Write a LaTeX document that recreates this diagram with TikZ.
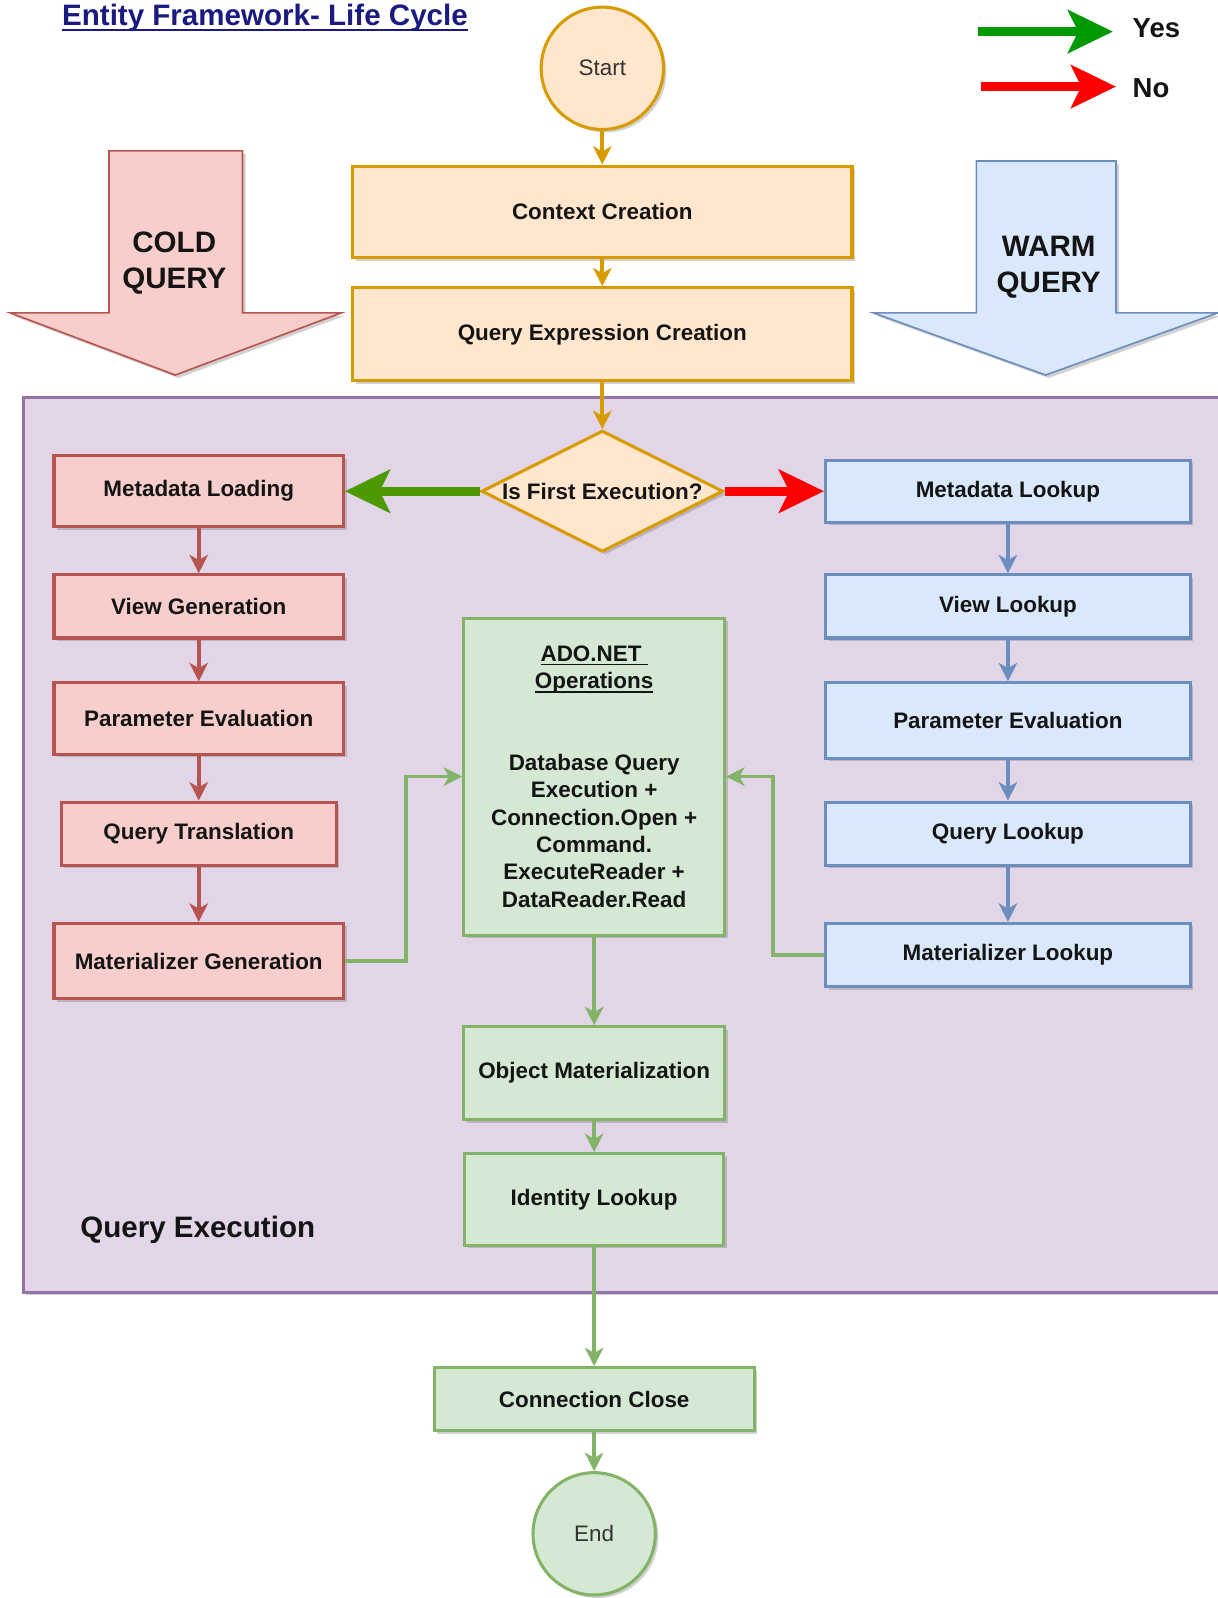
\documentclass[tikz,border=0pt]{standalone}
\usepackage{fontspec}
\setmainfont{Liberation Sans}
\usetikzlibrary{shapes.geometric,arrows.meta,positioning,calc,shadows}
\definecolor{orangefill}{RGB}{255,230,204}
\definecolor{orangeline}{RGB}{215,155,0}
\definecolor{redfill}{RGB}{248,206,204}
\definecolor{redline}{RGB}{184,84,80}
\definecolor{bluefill}{RGB}{218,232,252}
\definecolor{blueline}{RGB}{108,142,191}
\definecolor{greenfill}{RGB}{213,232,212}
\definecolor{greenline}{RGB}{130,179,102}
\definecolor{purplefill}{RGB}{225,213,231}
\definecolor{purpleline}{RGB}{150,115,166}
\definecolor{yesgreen}{RGB}{0,153,0}
\definecolor{firstgreen}{RGB}{77,153,0}
\definecolor{nored}{RGB}{255,0,0}
\definecolor{titleblue}{RGB}{26,26,128}
\definecolor{textdark}{RGB}{20,20,20}
\definecolor{textmuted}{RGB}{51,51,51}

\newcommand{\flatline}[1]{\leavevmode\setbox0\hbox{#1}\rlap{\rule[-0.16em]{\wd0}{0.065em}}\box0}

\tikzset{
    softshadow/.style={drop shadow={shadow xshift=1.5pt, shadow yshift=-1.5pt, opacity=0.3, fill=black!60}},
    stagebox/.style={rectangle, draw, line width=1.5pt, softshadow, inner sep=0pt, align=center,
        text=textdark, font=\bfseries\fontsize{11}{13.4}\selectfont},
    orangestep/.style={stagebox, fill=orangefill, draw=orangeline},
    coldstep/.style={stagebox, fill=redfill, draw=redline, minimum width=142pt},
    warmstep/.style={stagebox, fill=bluefill, draw=blueline, minimum width=179pt},
    adostep/.style={stagebox, fill=greenfill, draw=greenline},
    terminal/.style={circle, draw, line width=1.5pt, minimum size=60pt, inner sep=0pt, softshadow,
        text=textmuted, font=\fontsize{11}{13}\selectfont},
    decision/.style={diamond, draw=orangeline, fill=orangefill, line width=1.5pt, softshadow,
        minimum width=118.5pt, minimum height=59.5pt, inner sep=0pt,
        text=textdark, font=\bfseries\fontsize{11}{13.4}\selectfont},
    bigtext/.style={inner sep=0pt, text=textdark, font=\bfseries\fontsize{14.5}{17.5}\selectfont},
    legendtext/.style={inner sep=0pt, text=textdark, font=\bfseries\fontsize{13.5}{16}\selectfont},
    flow/.style={line width=1.8pt, -{Stealth[length=9pt, width=9pt, inset=2.5pt]}},
    bigflow/.style={line width=4.5pt, -{Stealth[length=22pt, width=21pt, inset=5pt]}}
}

\begin{document}
\begin{tikzpicture}[x=0.5pt, y=-0.5pt]
    \useasboundingbox (0,0) rectangle (1195,1568);

    \draw[fill=purplefill, draw=purpleline, line width=1.5pt, softshadow] (23,390) rectangle (1210,1268);
    \draw[fill=redfill, draw=redline, line width=0.8pt, softshadow] (107,148) -- (238,148) -- (238,307) -- (335,307) -- (172,368) -- (10,307) -- (107,307) -- cycle;
    \draw[fill=bluefill, draw=blueline, line width=0.8pt, softshadow] (958,158) -- (1095,158) -- (1095,307) -- (1195,307) -- (1026,368) -- (857,307) -- (958,307) -- cycle;

    \node[bigtext, text=titleblue] (title) at (260,18) {\flatline{Entity Framework- Life Cycle}};
    \node[bigtext, align=center] (cold) at (171,258) {COLD\\QUERY};
    \node[bigtext, align=center] (warm) at (1029,262) {WARM\\QUERY};
    \node[bigtext] (qexec) at (194,1207) {Query Execution};
    \node[legendtext, anchor=west] (yes) at (1111,28) {Yes};
    \node[legendtext, anchor=west] (no) at (1111,87) {No};
    \coordinate (yesfrom) at (960,31);
    \coordinate (yesto) at (1092,31);
    \coordinate (nofrom) at (963,85);
    \coordinate (noto) at (1095,85);

    \node[terminal, draw=orangeline, fill=orangefill] (start) at (591,67) {Start};
    \node[orangestep, minimum width=245pt, minimum height=45pt] (ctx) at (591,208) {Context Creation};
    \node[orangestep, minimum width=245pt, minimum height=45.5pt] (qexpr) at (591,328) {Query Expression Creation};
    \node[decision] (first) at (591,482) {\makebox[0pt]{Is First Execution?}};

    \node[coldstep, minimum height=35pt] (mdload) at (195,482) {Metadata Loading};
    \node[coldstep, minimum height=31pt] (viewgen) at (195,595) {View Generation};
    \node[coldstep, minimum height=35pt] (parcold) at (195,705) {Parameter Evaluation};
    \node[coldstep, minimum width=135pt, minimum height=31pt] (qtrans) at (195,818) {Query Translation};
    \node[coldstep, minimum height=37pt] (matgen) at (195,943) {Materializer Generation};

    \node[warmstep, minimum height=30.5pt] (mdlook) at (989,482) {Metadata Lookup};
    \node[warmstep, minimum height=31pt] (viewlook) at (989,595) {View Lookup};
    \node[warmstep, minimum height=37pt] (parwarm) at (989,707) {Parameter Evaluation};
    \node[warmstep, minimum height=31pt] (qlook) at (989,818) {Query Lookup};
    \node[warmstep, minimum height=31pt] (matlook) at (989,937) {Materializer Lookup};

    \node[adostep, minimum width=128pt, minimum height=155.5pt] (ado) at (583,762)
        {\flatline{ADO.NET\ }\\\flatline{Operations}\\[26.6pt]Database Query\\Execution +\\Connection.Open +\\Command.\\ExecuteReader +\\DataReader.Read};
    \node[adostep, minimum width=128pt, minimum height=45.5pt] (objmat) at (583,1053) {Object Materialization};
    \node[adostep, minimum width=127pt, minimum height=45pt] (idlook) at (583,1177) {Identity Lookup};
    \node[adostep, minimum width=157pt, minimum height=31pt] (connclose) at (583,1373) {Connection Close};
    \node[terminal, draw=greenline, fill=greenfill] (end) at (583,1505) {End};

    \draw[bigflow, yesgreen] (yesfrom) -- (yesto);
    \draw[bigflow, nored] (nofrom) -- (noto);

    \draw[flow, orangeline] (start) -- (ctx);
    \draw[flow, orangeline] (ctx) -- (qexpr);
    \draw[flow, orangeline] (qexpr) -- (first);
    \draw[bigflow, firstgreen] (first.west) -- (mdload.east);
    \draw[bigflow, nored] (first.east) -- (mdlook.west);

    \foreach \a/\b in {mdload/viewgen, viewgen/parcold, parcold/qtrans, qtrans/matgen}
        \draw[flow, redline] (\a) -- (\b);
    \foreach \a/\b in {mdlook/viewlook, viewlook/parwarm, parwarm/qlook, qlook/matlook}
        \draw[flow, blueline] (\a) -- (\b);

    \draw[flow, greenline] (matgen.east) -- ++(60,0) |- (ado.west);
    \draw[flow, greenline] (matlook.west) -- ++(-50,0) |- (ado.east);
    \foreach \a/\b in {ado/objmat, objmat/idlook, idlook/connclose, connclose/end}
        \draw[flow, greenline] (\a) -- (\b);
\end{tikzpicture}
\end{document}
